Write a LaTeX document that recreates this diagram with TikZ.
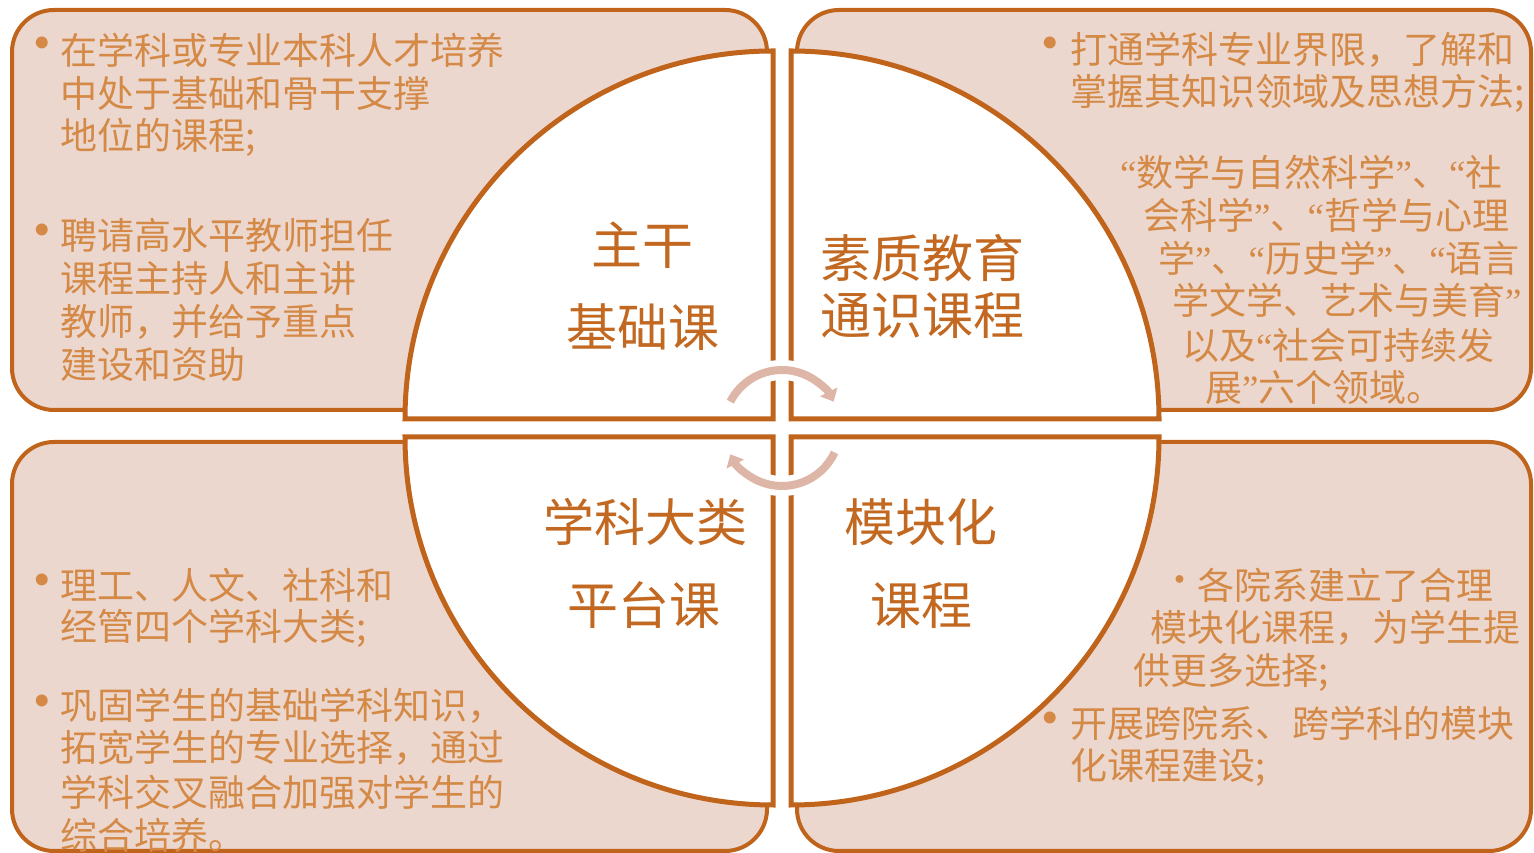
\documentclass[tikz,border=0pt]{standalone}
\usepackage{fontspec}
\newfontfamily\cjk{Noto Sans CJK SC}
\newfontfamily\latq{Liberation Serif}
\usetikzlibrary{arrows.meta}
\newcommand\qL{{\latq “}}
\newcommand\qR{{\latq ”}}
\definecolor{bord}{RGB}{192,100,28}
\definecolor{panelfill}{RGB}{236,215,207}
\definecolor{txt}{RGB}{212,138,70}
\definecolor{ttlc}{RGB}{194,104,32}
\definecolor{arcc}{RGB}{222,182,167}
\begin{document}
\begin{tikzpicture}[x=1pt,y=1pt,
  panel/.style={draw=bord, line width=4pt, fill=panelfill, rounded corners=42pt},
  quarter/.style={draw=bord, line width=5pt, fill=white, line join=miter},
  body/.style={font=\cjk\fontsize{37}{44}\selectfont, text=txt, anchor=west, inner sep=0pt},
  bul/.style={font=\latq\fontsize{50}{50}\selectfont, text=txt, inner sep=0pt},
  dotb/.style={font=\cjk\fontsize{37}{37}\selectfont, text=txt, inner sep=0pt},
  ttl/.style={font=\cjk\fontsize{51}{51}\selectfont, text=ttlc, inner sep=0pt},
  cyc/.style={draw=arcc, line width=8pt, -{Triangle[length=11pt,width=19pt]}},
  cycbg/.style={draw=white, line width=20pt},
]
\useasboundingbox (0,0) rectangle (1534,853);
\fill[white] (0,0) rectangle (1534,853);
% panels
\draw[panel] (12,443) rectangle (767,843);
\draw[panel] (797,443) rectangle (1531,843);
\draw[panel] (12,2) rectangle (767,411);
\draw[panel] (797,2) rectangle (1531,411);
% quarter circles
\draw[quarter] (773,434) -- (405,434) arc[start angle=180,end angle=90,radius=368pt] -- cycle;
\draw[quarter] (791,434) -- (791,802) arc[start angle=90,end angle=0,radius=368pt] -- cycle;
\draw[quarter] (773,416) -- (405,416) arc[start angle=180,end angle=270,radius=368pt] -- cycle;
\draw[quarter] (791,416) -- (791,48) arc[start angle=270,end angle=360,radius=368pt] -- cycle;
% cycle arrows
\coordinate (cc) at (782,425);
\draw[cycbg] (cc) ++(140:58) arc[start angle=140,end angle=40,radius=58pt];
\draw[cycbg] (cc) ++(-40:58) arc[start angle=-40,end angle=-140,radius=58pt];
\draw[cyc] (cc) ++(153:58) arc[start angle=153,end angle=27,radius=58pt];
\draw[cyc] (cc) ++(-25:58) arc[start angle=-25,end angle=-153,radius=58pt];
% titles
\node[ttl] (t1a) at (642,608) {主干};
\node[ttl] (t1b) at (643,526) {基础课};
\node[ttl] (t2a) at (922,595) {素质教育};
\node[ttl] (t2b) at (922,538) {通识课程};
\node[ttl] (t3a) at (645,331) {学科大类};
\node[ttl] (t3b) at (644,248) {平台课};
\node[ttl] (t4a) at (921,331) {模块化};
\node[ttl] (t4b) at (921,248) {课程};
% top-left text
\node[bul] (b1) at (42,805) {•};
\node[body] (a1) at (60,803) {在学科或专业本科人才培养};
\node[body] (a2) at (60,760) {中处于基础和骨干支撑};
\node[body] (a3) at (60,716) {地位的课程;};
\node[bul] (b2) at (42,618) {•};
\node[body] (a4) at (60,618) {聘请高水平教师担任};
\node[body] (a5) at (60,575) {课程主持人和主讲};
\node[body] (a6) at (60,531) {教师，并给予重点};
\node[body] (a7) at (60,488) {建设和资助};
% top-right text
\node[bul] (b3) at (1050,805) {•};
\node[body] (c1) at (1070,803) {打通学科专业界限，了解和};
\node[body] (c2) at (1070,760) {掌握其知识领域及思想方法;};
\node[body] (c3) at (1120,681) {\qL 数学与自然科学\qR 、\qL 社};
\node[body] (c4) at (1143,638) {会科学\qR 、\qL 哲学与心理};
\node[body] (c5) at (1158,595) {学\qR 、\qL 历史学\qR 、\qL 语言};
\node[body] (c6) at (1172,553) {学文学、艺术与美育\qR};
\node[body] (c7) at (1182,508) {以及\qL 社会可持续发};
\node[body] (c8) at (1205,465) {展\qR 六个领域。};
% bottom-left text
\node[bul] (b4) at (42,268) {•};
\node[body] (d1) at (60,268) {理工、人文、社科和};
\node[body] (d2) at (60,225) {经管四个学科大类;};
\node[bul] (b5) at (42,147) {•};
\node[body] (d3) at (60,147) {巩固学生的基础学科知识，};
\node[body] (d4) at (60,105) {拓宽学生的专业选择，通过};
\node[body] (d5) at (60,61) {学科交叉融合加强对学生的};
\node[body] (d6) at (60,18) {综合培养。};
% bottom-right text
\node[dotb] (b6) at (1180,268) {·};
\node[body] (e1) at (1197,268) {各院系建立了合理};
\node[body] (e2) at (1150,225) {模块化课程，为学生提};
\node[body] (e3) at (1133,181) {供更多选择;};
\node[bul] (b7) at (1050,130) {•};
\node[body] (e4) at (1070,130) {开展跨院系、跨学科的模块};
\node[body] (e5) at (1070,86) {化课程建设;};
\end{tikzpicture}
\end{document}
